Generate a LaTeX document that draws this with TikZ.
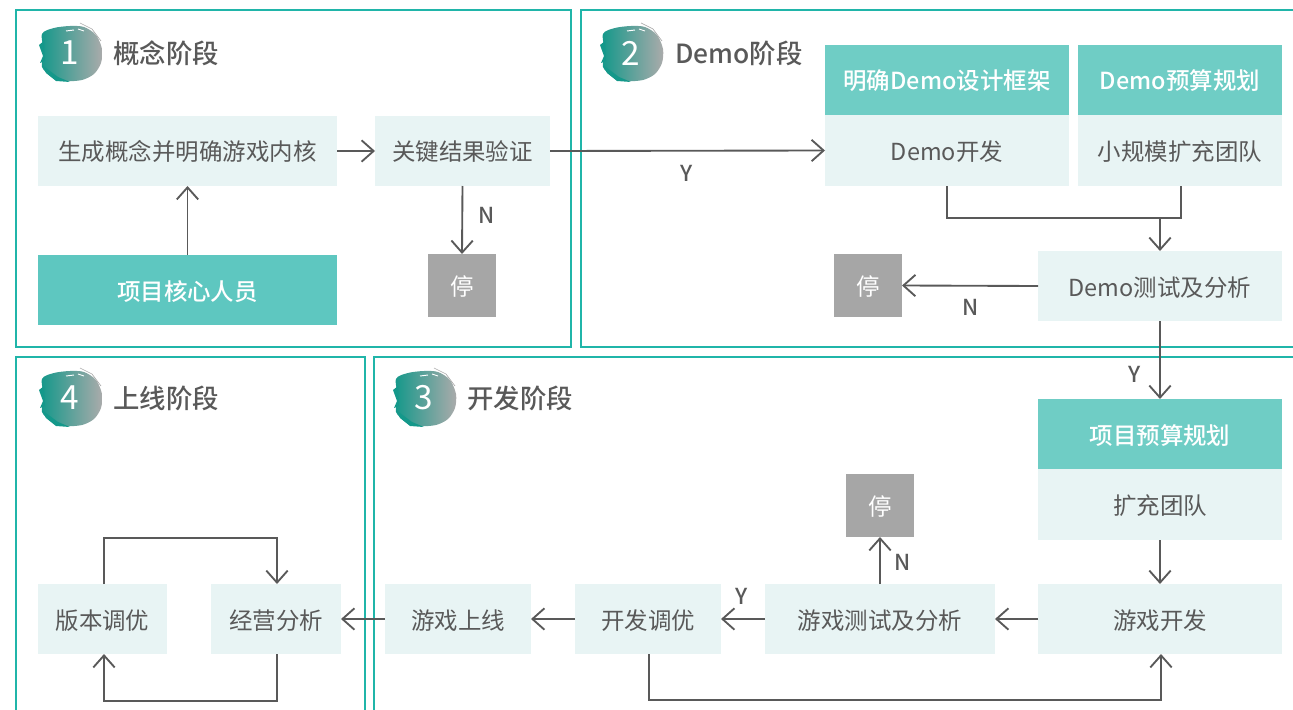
\documentclass[tikz,border=0pt]{standalone}
\usepackage{fontspec}
\setmainfont{Noto Sans CJK SC}
\newfontfamily\medfont{Noto Sans CJK SC Medium}
\usetikzlibrary{arrows.meta,positioning}
\definecolor{panelc}{HTML}{20B5A9}
\definecolor{lightc}{HTML}{E8F4F4}
\definecolor{headc}{HTML}{6FCDC5}
\definecolor{corec}{HTML}{5EC7C0}
\definecolor{stopc}{HTML}{A6A6A6}
\definecolor{inkc}{HTML}{595959}
\definecolor{tealc}{HTML}{14988A}
\definecolor{greyc}{HTML}{ABABAB}
\tikzset{
  x=0.75pt,y=-0.75pt,
  sz/.style 2 args={minimum width=#1*0.75pt,minimum height=#2*0.75pt},
  basebox/.style={inner sep=0pt,outer sep=0pt,align=center,font=\fontsize{17.6pt}{20pt}\selectfont,text height=15pt,text depth=0pt},
  lt/.style={basebox,fill=lightc,text=inkc},
  hd/.style={basebox,fill=headc,text=white,font=\medfont\fontsize{17.6pt}{20pt}\selectfont},
  core/.style={basebox,fill=corec,text=white,font=\medfont\fontsize{17.6pt}{20pt}\selectfont},
  halt/.style={basebox,fill=stopc,text=white},
  panel/.style={draw=panelc,line width=1.5pt},
  conn/.style={draw=inkc,line width=1.4pt,-{Straight Barb[length=9pt,width=16pt,line width=1.4pt]}},
  plain/.style={draw=inkc,line width=1.4pt},
  lab/.style={text=inkc,inner sep=0pt,font=\medfont\fontsize{16.5pt}{18pt}\selectfont},
  ttl/.style={text=inkc,inner sep=0pt,anchor=west,font=\medfont\fontsize{19.8pt}{22pt}\selectfont},
  numb/.style={text=white,inner sep=0pt,font=\fontsize{25pt}{28pt}\selectfont},
}
\newcommand{\stagebadge}[4]{%
  \begin{scope}[shift={(#1,#2)}]
    \path[left color=tealc,right color=greyc]
      plot[smooth cycle] coordinates {(-28,-19)(-16,-25)(0,-27)(14,-26)(26,-18)(32,-4)(31,10)(24,21)(12,27)(-4,28)(-18,24)(-28,14)(-26,0)};
    \fill[tealc] (-31,-8)--(-26,-12)--(-25,8)--(-30,10)--(-27,3)--cycle;
    \fill[tealc] (-28,12)--(-12,24)--(0,29)--(-14,28)--(-24,20)--cycle;
    \draw[greyc,line width=.5pt] (10,-30)--(22,-24)--(31,-12);
    \draw[white,line width=.7pt] (-4,-22)--(4,-23) (8,-24)--(14,-22);
    \node[numb] (#3) at (0,0) {#4};
  \end{scope}}
\begin{document}
\begin{tikzpicture}
\useasboundingbox (0,0) rectangle (1293,710);
\clip (0,0) rectangle (1293,710);
% panels
\draw[panel] (16,10) rectangle (571,347);
\draw[panel] (581,10) rectangle (1310,347);
\draw[panel] (16,356.5) rectangle (364.5,730);
\draw[panel] (373.5,356.5) rectangle (1310,730);
% badges and titles
\stagebadge{70}{53}{b1}{1}
\stagebadge{631}{53}{b2}{2}
\stagebadge{424}{398}{b3}{3}
\stagebadge{70}{398}{b4}{4}
\node[ttl] (t1) at (113,53) {概念阶段};
\node[ttl] (t2) at (675,53) {Demo阶段};
\node[ttl] (t3) at (467,398) {开发阶段};
\node[ttl] (t4) at (113,398) {上线阶段};
% stage 1
\node[lt,sz={299}{70}] (concept) at (187.5,151) {生成概念并明确游戏内核};
\node[lt,sz={175}{70}] (verify) at (462.5,151) {关键结果验证};
\node[core,sz={299}{70}] (core) at (187.5,290) {项目核心人员};
\node[halt,sz={68}{63}] (stopa) at (462,285.5) {停};
% stage 2
\node[hd,sz={244}{70}] (frame) at (947,80) {明确Demo设计框架};
\node[lt,sz={244}{71}] (demodev) at (947,150.5) {Demo开发};
\node[hd,sz={204}{70}] (budget) at (1180,80) {Demo预算规划};
\node[lt,sz={204}{71}] (smallteam) at (1180,150.5) {小规模扩充团队};
\node[lt,sz={244}{70}] (demotest) at (1160,286) {Demo测试及分析};
\node[halt,sz={68}{63}] (stopb) at (868,285.5) {停};
% stage 3
\node[hd,sz={244}{70}] (pbudget) at (1160,434) {项目预算规划};
\node[lt,sz={244}{71}] (expand) at (1160,504.5) {扩充团队};
\node[lt,sz={244}{70}] (gamedev) at (1160,619) {游戏开发};
\node[lt,sz={230}{70}] (gametest) at (880,619) {游戏测试及分析};
\node[halt,sz={68}{63}] (stopc) at (880,505.5) {停};
\node[lt,sz={146}{70}] (tune) at (648,619) {开发调优};
\node[lt,sz={146}{70}] (launch) at (458,619) {游戏上线};
% stage 4
\node[lt,sz={130}{70}] (ops) at (276,619) {经营分析};
\node[lt,sz={129}{70}] (version) at (102.5,619) {版本调优};
% helper points
\coordinate (j1) at (947,218);
\coordinate (j2) at (1181,218);
\coordinate (j3) at (1160,218);
\coordinate (k1) at (649,700);
\coordinate (k2) at (1161,700);
\coordinate (m1) at (104,538);
\coordinate (m2) at (277,538);
\coordinate (m3) at (277,701);
\coordinate (m4) at (104,701);
% connectors
\draw[conn] (concept.east) -- (verify.west);
\draw[conn] (verify.east) -- (demodev.west);
\draw[conn] (core.north) -- (concept.south);
\draw[conn] (verify.south) -- (stopa.north);
\draw[plain] (demodev.south) -- (j1) -- (j2) -- (smallteam.south -| j2);
\draw[conn] (j3) -- (demotest.north);
\draw[conn] (demotest.west) -- (stopb.east);
\draw[conn] (demotest.south) -- (pbudget.north);
\draw[conn] (expand.south) -- (gamedev.north);
\draw[conn] (gamedev.west) -- (gametest.east);
\draw[conn] (gametest.west) -- (tune.east);
\draw[conn] (tune.west) -- (launch.east);
\draw[conn] (launch.west) -- (ops.east);
\draw[conn] (gametest.north) -- (stopc.south);
\draw[conn] (tune.south -| k1) -- (k1) -- (k2) -- (gamedev.south -| k2);
\draw[conn] (version.north -| m1) -- (m1) -- (m2) -- (ops.north -| m2);
\draw[conn] (ops.south -| m3) -- (m3) -- (m4) -- (version.south -| m4);
% labels
\node[lab] (ly1) at (687,173) {Y};
\node[lab] (ln1) at (487,215) {N};
\node[lab] (ln2) at (971,307) {N};
\node[lab] (ly2) at (1135,374) {Y};
\node[lab] (ln3) at (903,562) {N};
\node[lab] (ly3) at (742,596) {Y};
\end{tikzpicture}
\end{document}
